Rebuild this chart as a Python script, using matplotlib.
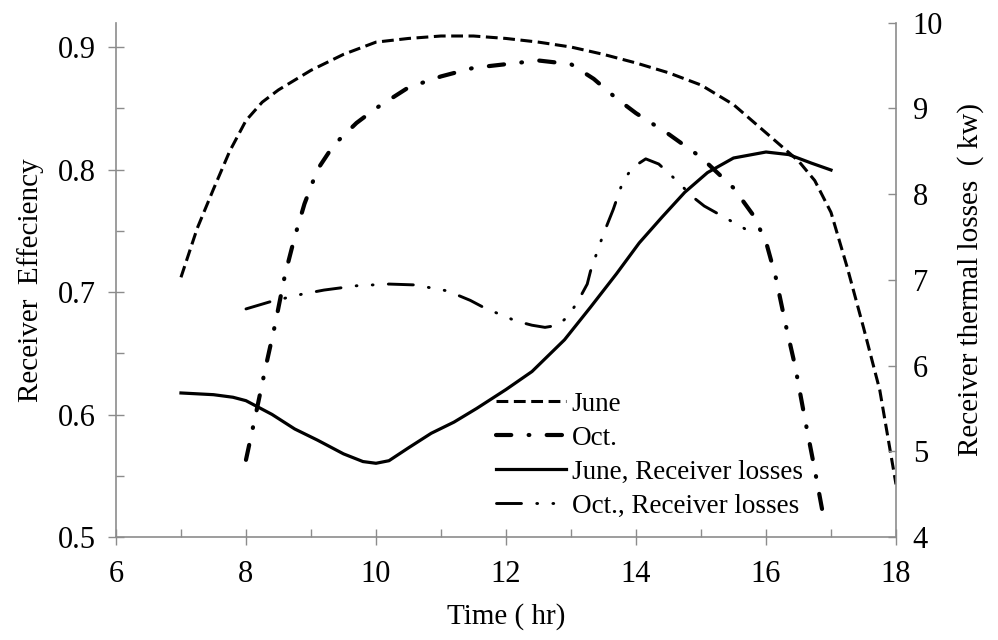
import numpy as np
import matplotlib
matplotlib.use("Agg")
import matplotlib.pyplot as plt
from matplotlib.ticker import MultipleLocator

plt.rcParams["font.family"] = ["Liberation Serif", "DejaVu Serif"]
plt.rcParams["lines.scale_dashes"] = False

# values
june_hr = [7, 7.25, 7.5, 7.75, 8, 8.25, 8.5, 9, 9.5, 10, 10.5, 11, 11.5, 12, 12.5,
           13, 13.5, 14, 14.5, 15, 15.5, 16, 16.5, 16.75, 17, 17.25, 17.5, 17.75, 18]
june_eff = [0.712, 0.752, 0.784, 0.815, 0.840, 0.855, 0.865, 0.881, 0.894, 0.904,
            0.907, 0.909, 0.909, 0.907, 0.904, 0.900, 0.894, 0.887, 0.879, 0.869,
            0.853, 0.830, 0.807, 0.791, 0.765, 0.720, 0.671, 0.620, 0.543]

oct_hr = [8, 8.15, 8.3, 8.45, 8.6, 8.75, 8.9, 9.1, 9.35, 9.7, 10, 10.5, 11, 11.5, 12,
          12.5, 13, 13.35, 13.7, 14, 14.5, 15, 15.5, 15.8, 16, 16.15, 16.3, 16.45,
          16.6, 16.75, 16.9]
oct_eff = [0.563, 0.600, 0.638, 0.674, 0.714, 0.745, 0.772, 0.800, 0.820, 0.838,
           0.850, 0.867, 0.876, 0.883, 0.886, 0.889, 0.886, 0.874, 0.858, 0.846,
           0.829, 0.810, 0.785, 0.763, 0.741, 0.712, 0.674, 0.639, 0.596, 0.555, 0.512]

june_loss_hr = [7, 7.5, 7.8, 8, 8.4, 8.75, 9.1, 9.5, 9.8, 10, 10.2, 10.5, 10.85, 11.2,
                11.55, 12, 12.4, 12.9, 13.3, 13.7, 14.05, 14.4, 14.75, 15.1, 15.5, 16,
                16.35, 16.7, 17]
june_loss = [5.68, 5.66, 5.63, 5.59, 5.43, 5.26, 5.13, 4.97, 4.88, 4.86, 4.89, 5.04,
             5.21, 5.34, 5.50, 5.72, 5.93, 6.30, 6.68, 7.07, 7.43, 7.73, 8.02, 8.25,
             8.42, 8.49, 8.46, 8.36, 8.28]

oct_loss_hr = [8, 8.4, 8.85, 9.2, 9.7, 10.2, 10.6, 11.1, 11.45, 11.7, 11.9, 12.15, 12.4,
               12.6, 12.8, 12.95, 13.1, 13.25, 13.3, 13.45, 13.55, 13.65, 13.8, 13.95,
               14.15, 14.35, 14.65, 14.85, 15.05, 15.45, 15.85]
oct_loss = [6.66, 6.75, 6.83, 6.88, 6.93, 6.95, 6.94, 6.87, 6.76, 6.66, 6.60, 6.52, 6.47,
            6.445, 6.47, 6.57, 6.74, 6.95, 7.10, 7.43, 7.63, 7.82, 8.15, 8.31, 8.41,
            8.35, 8.14, 7.98, 7.86, 7.69, 7.52]

labels = ["June", "Oct.", "June, Receiver losses", "Oct., Receiver losses"]

fig = plt.figure(figsize=(9.98, 6.4), dpi=100)
ax = fig.add_axes([0.1162, 0.1609, 0.7816, 0.8039])
ax2 = ax.twinx()

l1, = ax.plot(june_hr, june_eff, color="black", lw=2.2,
              linestyle=(0, (8.5, 4)), dash_capstyle="butt")
l2, = ax.plot(oct_hr, oct_eff, color="black", lw=3.0,
              linestyle=(0, (11, 12.5, 0.5, 12.5)), dash_capstyle="round")
l3, = ax2.plot(june_loss_hr, june_loss, color="black", lw=2.3)
l4, = ax2.plot(oct_loss_hr, oct_loss, color="black", lw=2.1,
               linestyle=(0, (18, 11, 0.6, 11, 0.6, 11)), dash_capstyle="round")

ax.set_xlim(6, 18)
ax.set_ylim(0.5, 0.92)
ax2.set_ylim(4, 10)

ax.xaxis.set_major_locator(MultipleLocator(2))
ax.xaxis.set_minor_locator(MultipleLocator(1))
ax.yaxis.set_major_locator(MultipleLocator(0.1))
ax.yaxis.set_minor_locator(MultipleLocator(0.05))
ax2.yaxis.set_major_locator(MultipleLocator(1))
ax.yaxis.set_major_formatter(plt.FormatStrFormatter("%.1f"))

grey = "#8c8c8c"
for a in (ax, ax2):
    a.spines["top"].set_visible(False)
    for s in a.spines.values():
        s.set_color(grey)
        s.set_linewidth(1.2)
    a.set_facecolor("none")

ax.spines["right"].set_visible(False)
ax2.spines["left"].set_visible(False)
ax2.spines["bottom"].set_visible(False)

ax.tick_params(axis="both", which="major", direction="inout", length=11,
               width=1.0, color=grey, labelsize=22, pad=9)
ax.tick_params(axis="both", which="minor", direction="in", length=6,
               width=1.0, color=grey)
ax.tick_params(axis="x", pad=11)
ax2.tick_params(axis="y", which="major", direction="in", length=6, width=1.0,
                color=grey, labelsize=22, pad=12)

ax.set_xlabel("Time ( hr)", fontsize=21, labelpad=10)
ax.set_ylabel("Receiver  Effeciency", fontsize=21, labelpad=10)
ax2.set_ylabel("Receiver thermal losses  ( kw)", fontsize=21, labelpad=10)

ax2.legend([l1, l2, l3, l4], labels, loc="lower left",
           bbox_to_anchor=(0.487, 0.036), frameon=False, fontsize=19.5,
           handlelength=2.6, handletextpad=0.2, labelspacing=0.33,
           borderpad=0, borderaxespad=0)

fig.savefig("out.png", dpi=100)
